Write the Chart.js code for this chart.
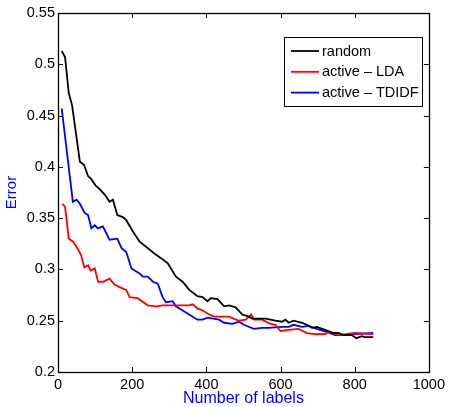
<!DOCTYPE html>
<html>
<head>
<meta charset="utf-8">
<script src="https://cdn.jsdelivr.net/npm/chart.js@4/dist/chart.umd.min.js"></script>
<style>
  html, body { margin: 0; padding: 0; background: #fff; }
  #wrap { width: 449px; height: 407px; position: relative; }
</style>
</head>
<body>
<div id="wrap"><canvas id="c" width="449" height="407"></canvas></div>
<script>
// Number of labelled documents (x) and classification error (y) per strategy
const randomLabels = [10,19,29,38,59,70,81,90,101,113,126,139,148,160,175,184,202,220,238,258,278,296,318,336,354,376,390,403,412,430,448,461,479,497,515,524,560,586,604,613,622,635,658,671,685,698,720,743,756,770,792,805,819,827,850];
const randomError  = [0.513,0.507,0.472,0.460,0.405,0.402,0.391,0.388,0.382,0.378,0.373,0.366,0.368,0.353,0.351,0.348,0.337,0.327,0.322,0.316,0.311,0.306,0.293,0.288,0.280,0.274,0.273,0.269,0.272,0.271,0.264,0.265,0.263,0.256,0.254,0.252,0.252,0.250,0.249,0.251,0.248,0.250,0.248,0.246,0.243,0.244,0.241,0.238,0.238,0.236,0.236,0.233,0.235,0.234,0.234];

const ldaLabels = [12,19,29,41,55,62,71,81,88,99,108,121,139,153,171,184,193,215,242,265,282,318,354,363,376,390,408,421,461,488,506,521,528,550,573,586,600,622,649,671,694,720,729,756,801,850];
const ldaError  = [0.364,0.361,0.330,0.327,0.319,0.314,0.302,0.304,0.299,0.301,0.288,0.288,0.291,0.285,0.282,0.280,0.273,0.272,0.265,0.264,0.265,0.265,0.265,0.266,0.262,0.260,0.256,0.254,0.254,0.250,0.251,0.256,0.251,0.251,0.247,0.246,0.240,0.241,0.242,0.238,0.237,0.237,0.239,0.236,0.238,0.237];

const tdidfLabels = [10,40,50,59,72,81,90,99,108,121,139,160,171,184,198,220,229,242,256,269,282,291,309,318,345,376,390,403,434,448,470,488,501,528,550,568,604,622,635,658,676,698,725,747,765,800,850];
const tdidfError  = [0.457,0.366,0.368,0.364,0.355,0.353,0.340,0.343,0.340,0.342,0.329,0.330,0.321,0.317,0.301,0.296,0.293,0.293,0.288,0.286,0.273,0.268,0.269,0.264,0.258,0.251,0.251,0.253,0.251,0.248,0.247,0.249,0.246,0.242,0.243,0.243,0.244,0.244,0.246,0.244,0.245,0.242,0.239,0.236,0.236,0.237,0.238];

const seriesNames = ['random', 'active \u2013 LDA', 'active \u2013 TDIDF'];
const xTicks = [0, 200, 400, 600, 800, 1000];
const yTicks = [0.2, 0.25, 0.3, 0.35, 0.4, 0.45, 0.5, 0.55];

const FONT = '"Liberation Sans", Arial, Helvetica, sans-serif';

function pts(xs, ys) { return xs.map((x, i) => ({ x: x, y: ys[i] })); }

// Box around the axes, inward tick marks on all four sides, and the legend
const framePlugin = {
  id: 'frame',
  afterDatasetsDraw(chart) {
    const { ctx, chartArea: a, scales } = chart;
    const tl = 5;
    ctx.save();
    ctx.strokeStyle = '#000';
    ctx.lineWidth = 1;
    ctx.beginPath();
    scales.x.ticks.forEach(t => {
      const px = Math.round(scales.x.getPixelForValue(t.value)) + 0.5;
      ctx.moveTo(px, a.bottom); ctx.lineTo(px, a.bottom - tl);
      ctx.moveTo(px, a.top); ctx.lineTo(px, a.top + tl);
    });
    scales.y.ticks.forEach(t => {
      const py = Math.round(scales.y.getPixelForValue(t.value)) + 0.5;
      ctx.moveTo(a.left, py); ctx.lineTo(a.left + tl, py);
      ctx.moveTo(a.right, py); ctx.lineTo(a.right - tl, py);
    });
    ctx.stroke();
    ctx.lineWidth = 1.3;
    ctx.strokeRect(Math.round(a.left) + 0.5, Math.round(a.top) + 0.5,
                   Math.round(a.right - a.left), Math.round(a.bottom - a.top));

    // legend
    const lx = 284, ly = 37, lw = 138, lh = 69;
    ctx.fillStyle = '#fff';
    ctx.fillRect(lx, ly, lw, lh);
    ctx.lineWidth = 1;
    ctx.strokeStyle = '#000';
    ctx.strokeRect(lx + 0.5, ly + 0.5, lw, lh);
    ctx.font = '14.5px ' + FONT;
    ctx.textBaseline = 'middle';
    ctx.textAlign = 'left';
    chart.data.datasets.forEach((ds, i) => {
      const ry = ly + 14 + i * 20.8;
      ctx.strokeStyle = ds.borderColor;
      ctx.lineWidth = 1.8;
      ctx.beginPath();
      ctx.moveTo(291, ry); ctx.lineTo(319, ry);
      ctx.stroke();
      ctx.fillStyle = '#000';
      ctx.fillText(ds.label, 322, ry + 0.5);
    });
    ctx.restore();
  }
};

new Chart(document.getElementById('c'), {
  type: 'line',
  data: {
    datasets: [
      { label: seriesNames[0], data: pts(randomLabels, randomError), borderColor: '#000000' },
      { label: seriesNames[1], data: pts(ldaLabels, ldaError), borderColor: '#ff0000' },
      { label: seriesNames[2], data: pts(tdidfLabels, tdidfError), borderColor: '#0000ff' }
    ].map(d => Object.assign(d, { borderWidth: 1.8, pointRadius: 0, tension: 0, fill: false }))
  },
  options: {
    responsive: false,
    animation: false,
    events: [],
    layout: { padding: { left: 0, top: 13, right: 18, bottom: 0 } },
    plugins: { legend: { display: false }, tooltip: { enabled: false } },
    scales: {
      x: {
        type: 'linear', min: 0, max: 1000,
        afterBuildTicks: s => { s.ticks = xTicks.map(v => ({ value: v })); },
        afterFit: s => { s.height = 35; },
        grid: { display: false, drawTicks: false },
        border: { display: false },
        ticks: { color: '#000', font: { family: FONT, size: 14.5 }, padding: 4, maxRotation: 0,
                 callback: v => String(v) },
        title: { display: true, text: 'Number of labels', color: '#0000ff',
                 font: { family: FONT, size: 16, lineHeight: 1 }, padding: { top: 0, bottom: 0 } }
      },
      y: {
        type: 'linear', min: 0.2, max: 0.55,
        afterBuildTicks: s => { s.ticks = yTicks.map(v => ({ value: v })); },
        afterFit: s => { s.width = 58; },
        grid: { display: false, drawTicks: false },
        border: { display: false },
        ticks: { color: '#000', font: { family: FONT, size: 14.5 }, padding: 3,
                 callback: v => String(+v.toFixed(2)) },
        title: { display: true, text: 'Error', color: '#0000ff',
                 font: { family: FONT, size: 15, lineHeight: 1 }, padding: { top: 4, bottom: 0 } }
      }
    }
  },
  plugins: [framePlugin]
});
</script>
</body>
</html>
